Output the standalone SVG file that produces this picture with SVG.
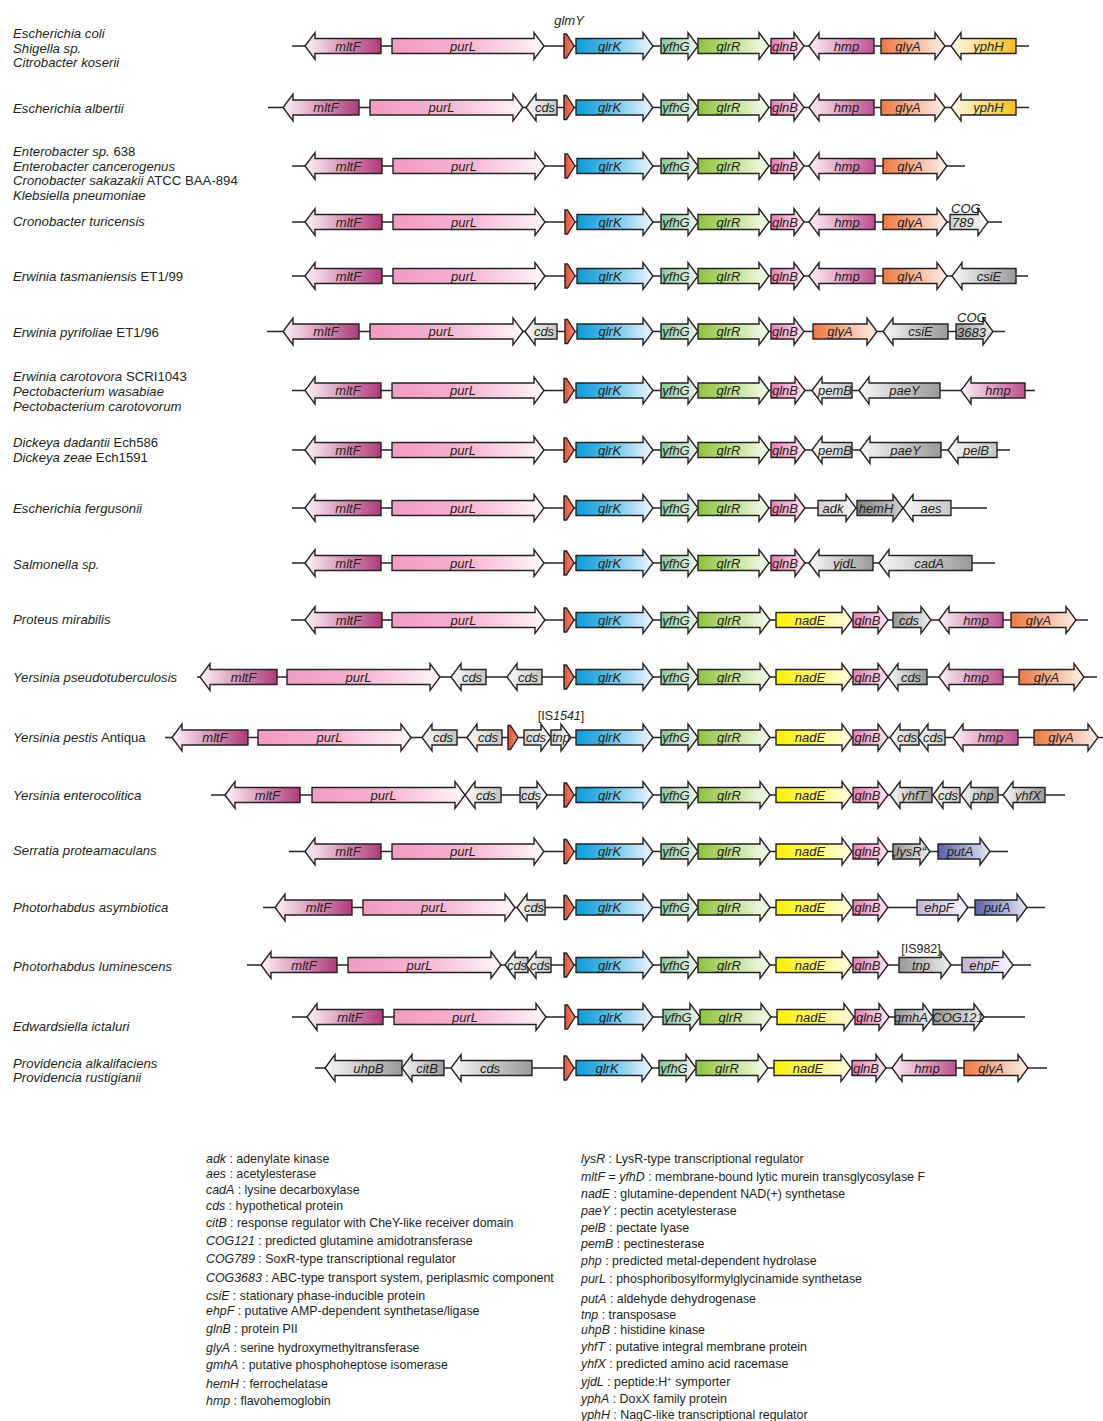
<svg xmlns="http://www.w3.org/2000/svg" width="1103" height="1421" viewBox="0 0 1103 1421">
<style>
.a{stroke:#262223;stroke-width:1.4;stroke-linejoin:miter}
.t{font-family:"Liberation Sans",Arial,sans-serif;font-style:italic;font-size:13px;fill:#231f20;text-anchor:middle}
.s{font-family:"Liberation Sans",Arial,sans-serif;font-size:13.2px;fill:#231f20}
.s .i,.l .i{font-style:italic}
.l{font-family:"Liberation Sans",Arial,sans-serif;font-size:12.4px;fill:#231f20}
.bb line{stroke:#262223;stroke-width:1.7}
.lab{font-family:"Liberation Sans",Arial,sans-serif;font-size:12.5px;fill:#231f20}
</style>
<defs>
<linearGradient id="gMltF"><stop offset="0" stop-color="#fdf2f7"/><stop offset="1" stop-color="#b13a7a"/></linearGradient>
<linearGradient id="gPurL"><stop offset="0" stop-color="#f39bc1"/><stop offset="0.5" stop-color="#f6b5d2"/><stop offset="1" stop-color="#fff8fb"/></linearGradient>
<linearGradient id="gGlmY"><stop offset="0" stop-color="#e8482c"/><stop offset="1" stop-color="#f7977a"/></linearGradient>
<linearGradient id="gGlrK"><stop offset="0" stop-color="#0a9ed8"/><stop offset="0.3" stop-color="#3db1e2"/><stop offset="1" stop-color="#f0f8fd"/></linearGradient>
<linearGradient id="gYfhG"><stop offset="0" stop-color="#86c496"/><stop offset="1" stop-color="#f3f9f3"/></linearGradient>
<linearGradient id="gGlrR"><stop offset="0" stop-color="#8bc43c"/><stop offset="1" stop-color="#f9fbef"/></linearGradient>
<linearGradient id="gGlnB"><stop offset="0" stop-color="#eb7bb2"/><stop offset="1" stop-color="#fdeaf3"/></linearGradient>
<linearGradient id="gHmp"><stop offset="0" stop-color="#fcf1f7"/><stop offset="1" stop-color="#c0508e"/></linearGradient>
<linearGradient id="gGlyA"><stop offset="0" stop-color="#ee7843"/><stop offset="1" stop-color="#fff1e8"/></linearGradient>
<linearGradient id="gYphH"><stop offset="0" stop-color="#fffaea"/><stop offset="1" stop-color="#f8bd22"/></linearGradient>
<linearGradient id="gNadE"><stop offset="0" stop-color="#fff200"/><stop offset="1" stop-color="#fffbe6"/></linearGradient>
<linearGradient id="gGrayL"><stop offset="0" stop-color="#f8f8f8"/><stop offset="1" stop-color="#999999"/></linearGradient>
<linearGradient id="gGrayLs"><stop offset="0" stop-color="#f8f8f8"/><stop offset="1" stop-color="#c6c6c6"/></linearGradient>
<linearGradient id="gGrayR"><stop offset="0" stop-color="#979797"/><stop offset="1" stop-color="#efefef"/></linearGradient>
<linearGradient id="gGrayLt"><stop offset="0" stop-color="#d0d0d0"/><stop offset="1" stop-color="#f7f7f7"/></linearGradient>
<linearGradient id="gHemH"><stop offset="0" stop-color="#838383"/><stop offset="1" stop-color="#cfcfcf"/></linearGradient>
<linearGradient id="gPutA"><stop offset="0" stop-color="#5a62aa"/><stop offset="1" stop-color="#e6e7f3"/></linearGradient>
<linearGradient id="gEhpF"><stop offset="0" stop-color="#c3b4da"/><stop offset="1" stop-color="#f8f5fb"/></linearGradient>
</defs>
<rect width="1103" height="1421" fill="#ffffff"/>

<g id="species" class="s">
<text x="13" y="38"><tspan class="i">Escherichia coli</tspan></text>
<text x="13" y="52.5"><tspan class="i">Shigella sp.</tspan></text>
<text x="13" y="67"><tspan class="i">Citrobacter koserii</tspan></text>
<text x="13" y="113"><tspan class="i">Escherichia albertii</tspan></text>
<text x="13" y="156"><tspan class="i">Enterobacter sp.</tspan> 638</text>
<text x="13" y="170.5"><tspan class="i">Enterobacter cancerogenus</tspan></text>
<text x="13" y="185"><tspan class="i">Cronobacter sakazakii</tspan> ATCC BAA-894</text>
<text x="13" y="199.5"><tspan class="i">Klebsiella pneumoniae</tspan></text>
<text x="13" y="226"><tspan class="i">Cronobacter turicensis</tspan></text>
<text x="13" y="281"><tspan class="i">Erwinia tasmaniensis</tspan> ET1/99</text>
<text x="13" y="337"><tspan class="i">Erwinia pyrifoliae</tspan> ET1/96</text>
<text x="13" y="381"><tspan class="i">Erwinia carotovora</tspan> SCRI1043</text>
<text x="13" y="396"><tspan class="i">Pectobacterium wasabiae</tspan></text>
<text x="13" y="411"><tspan class="i">Pectobacterium carotovorum</tspan></text>
<text x="13" y="446.5"><tspan class="i">Dickeya dadantii</tspan> Ech586</text>
<text x="13" y="461.5"><tspan class="i">Dickeya zeae</tspan> Ech1591</text>
<text x="13" y="512.5"><tspan class="i">Escherichia fergusonii</tspan></text>
<text x="13" y="568.5"><tspan class="i">Salmonella sp.</tspan></text>
<text x="13" y="624"><tspan class="i">Proteus mirabilis</tspan></text>
<text x="13" y="681.5"><tspan class="i">Yersinia pseudotuberculosis</tspan></text>
<text x="13" y="741.5"><tspan class="i">Yersinia pestis</tspan> Antiqua</text>
<text x="13" y="799.5"><tspan class="i">Yersinia enterocolitica</tspan></text>
<text x="13" y="855"><tspan class="i">Serratia proteamaculans</tspan></text>
<text x="13" y="911.5"><tspan class="i">Photorhabdus asymbiotica</tspan></text>
<text x="13" y="970.5"><tspan class="i">Photorhabdus luminescens</tspan></text>
<text x="13" y="1030.5"><tspan class="i">Edwardsiella ictaluri</tspan></text>
<text x="13" y="1067.5"><tspan class="i">Providencia alkalifaciens</tspan></text>
<text x="13" y="1082"><tspan class="i">Providencia rustigianii</tspan></text>
</g>

<g id="backbones" class="bb">
<line x1="292" y1="46" x2="1029" y2="46"/>
<line x1="268" y1="107.5" x2="1029" y2="107.5"/>
<line x1="292" y1="166" x2="965" y2="166"/>
<line x1="292" y1="222" x2="1002" y2="222"/>
<line x1="292" y1="276" x2="1028" y2="276"/>
<line x1="267" y1="331.5" x2="1005" y2="331.5"/>
<line x1="292" y1="390.5" x2="1035" y2="390.5"/>
<line x1="292" y1="450" x2="1010" y2="450"/>
<line x1="292" y1="508" x2="987" y2="508"/>
<line x1="292" y1="563" x2="995" y2="563"/>
<line x1="291" y1="620" x2="1088" y2="620"/>
<line x1="197" y1="677" x2="1097" y2="677"/>
<line x1="165" y1="737.5" x2="1103" y2="737.5"/>
<line x1="211" y1="795" x2="1065" y2="795"/>
<line x1="289" y1="851.5" x2="1008" y2="851.5"/>
<line x1="263" y1="907.5" x2="1045" y2="907.5"/>
<line x1="247" y1="965" x2="1031" y2="965"/>
<line x1="292" y1="1017" x2="1025" y2="1017"/>
<line x1="315" y1="1068" x2="1047" y2="1068"/>
</g>

<text class="t" x="569" y="24.5">glmY</text>

<g id="row01" transform="translate(0,46)">
<g id="r01-mltF"><path class="a" fill="url(#gMltF)" d="M381,-7.5h-66v-6l-10,13.5l10,13.5v-6h66z"/><text class="t" x="348" y="4.5">mltF</text></g>
<g id="r01-purL"><path class="a" fill="url(#gPurL)" d="M392,-7.5h142v-6l10,13.5l-10,13.5v-6h-142z"/><text class="t" x="463" y="4.5">purL</text></g>
<g id="r01-glmY"><path class="a" fill="url(#gGlmY)" d="M564,-12h2.5l7.5,12l-7.5,12h-2.5z"/></g>
<g id="r01-glrK"><path class="a" fill="url(#gGlrK)" d="M576,-7.5h67v-6l10,13.5l-10,13.5v-6h-67z"/><text class="t" x="609.5" y="4.5">glrK</text></g>
<g id="r01-yfhG"><path class="a" fill="url(#gYfhG)" d="M661,-7.5h27v-6l10,13.5l-10,13.5v-6h-27z"/><text class="t" x="676" y="4.5">yfhG</text></g>
<g id="r01-glrR"><path class="a" fill="url(#gGlrR)" d="M698,-7.5h61v-6l10,13.5l-10,13.5v-6h-61z"/><text class="t" x="728.5" y="4.5">glrR</text></g>
<g id="r01-glnB"><path class="a" fill="url(#gGlnB)" d="M771,-7.5h23v-6l10,13.5l-10,13.5v-6h-23z"/><text class="t" x="785" y="4.5">glnB</text></g>
<g id="r01-hmp"><path class="a" fill="url(#gHmp)" d="M874,-7.5h-55v-6l-10,13.5l10,13.5v-6h55z"/><text class="t" x="846.5" y="4.5">hmp</text></g>
<g id="r01-glyA"><path class="a" fill="url(#gGlyA)" d="M881,-7.5h54v-6l10,13.5l-10,13.5v-6h-54z"/><text class="t" x="908" y="4.5">glyA</text></g>
<g id="r01-yphH"><path class="a" fill="url(#gYphH)" d="M1016,-7.5h-55v-6l-10,13.5l10,13.5v-6h55z"/><text class="t" x="988.5" y="4.5">yphH</text></g>
</g>

<g id="row02" transform="translate(0,107.5)">
<g id="r02-mltF"><path class="a" fill="url(#gMltF)" d="M359,-7.5h-66v-6l-10,13.5l10,13.5v-6h66z"/><text class="t" x="326" y="4.5">mltF</text></g>
<g id="r02-purL"><path class="a" fill="url(#gPurL)" d="M370,-7.5h143v-6l10,13.5l-10,13.5v-6h-143z"/><text class="t" x="441.5" y="4.5">purL</text></g>
<g id="r02-cds"><path class="a" fill="url(#gGrayLs)" d="M557,-7.5h-21v-6l-10,13.5l10,13.5v-6h21z"/><text class="t" x="545" y="4.5">cds</text></g>
<g id="r02-glmY"><path class="a" fill="url(#gGlmY)" d="M564,-12h2.5l7.5,12l-7.5,12h-2.5z"/></g>
<g id="r02-glrK"><path class="a" fill="url(#gGlrK)" d="M576,-7.5h67v-6l10,13.5l-10,13.5v-6h-67z"/><text class="t" x="609.5" y="4.5">glrK</text></g>
<g id="r02-yfhG"><path class="a" fill="url(#gYfhG)" d="M661,-7.5h27v-6l10,13.5l-10,13.5v-6h-27z"/><text class="t" x="676" y="4.5">yfhG</text></g>
<g id="r02-glrR"><path class="a" fill="url(#gGlrR)" d="M698,-7.5h61v-6l10,13.5l-10,13.5v-6h-61z"/><text class="t" x="728.5" y="4.5">glrR</text></g>
<g id="r02-glnB"><path class="a" fill="url(#gGlnB)" d="M771,-7.5h23v-6l10,13.5l-10,13.5v-6h-23z"/><text class="t" x="785" y="4.5">glnB</text></g>
<g id="r02-hmp"><path class="a" fill="url(#gHmp)" d="M874,-7.5h-55v-6l-10,13.5l10,13.5v-6h55z"/><text class="t" x="846.5" y="4.5">hmp</text></g>
<g id="r02-glyA"><path class="a" fill="url(#gGlyA)" d="M881,-7.5h54v-6l10,13.5l-10,13.5v-6h-54z"/><text class="t" x="908" y="4.5">glyA</text></g>
<g id="r02-yphH"><path class="a" fill="url(#gYphH)" d="M1016,-7.5h-55v-6l-10,13.5l10,13.5v-6h55z"/><text class="t" x="988.5" y="4.5">yphH</text></g>
</g>

<g id="row03" transform="translate(0,166)">
<g id="r03-mltF"><path class="a" fill="url(#gMltF)" d="M382,-7.5h-67v-6l-10,13.5l10,13.5v-6h67z"/><text class="t" x="348.5" y="4.5">mltF</text></g>
<g id="r03-purL"><path class="a" fill="url(#gPurL)" d="M393,-7.5h142v-6l10,13.5l-10,13.5v-6h-142z"/><text class="t" x="464" y="4.5">purL</text></g>
<g id="r03-glmY"><path class="a" fill="url(#gGlmY)" d="M565,-12h2.5l7.5,12l-7.5,12h-2.5z"/></g>
<g id="r03-glrK"><path class="a" fill="url(#gGlrK)" d="M577,-7.5h66v-6l10,13.5l-10,13.5v-6h-66z"/><text class="t" x="610" y="4.5">glrK</text></g>
<g id="r03-yfhG"><path class="a" fill="url(#gYfhG)" d="M661,-7.5h27v-6l10,13.5l-10,13.5v-6h-27z"/><text class="t" x="676" y="4.5">yfhG</text></g>
<g id="r03-glrR"><path class="a" fill="url(#gGlrR)" d="M698,-7.5h61v-6l10,13.5l-10,13.5v-6h-61z"/><text class="t" x="728.5" y="4.5">glrR</text></g>
<g id="r03-glnB"><path class="a" fill="url(#gGlnB)" d="M771,-7.5h23v-6l10,13.5l-10,13.5v-6h-23z"/><text class="t" x="785" y="4.5">glnB</text></g>
<g id="r03-hmp"><path class="a" fill="url(#gHmp)" d="M875,-7.5h-56v-6l-10,13.5l10,13.5v-6h56z"/><text class="t" x="847" y="4.5">hmp</text></g>
<g id="r03-glyA"><path class="a" fill="url(#gGlyA)" d="M883,-7.5h54v-6l10,13.5l-10,13.5v-6h-54z"/><text class="t" x="910" y="4.5">glyA</text></g>
</g>

<g id="row04" transform="translate(0,222)">
<g id="r04-mltF"><path class="a" fill="url(#gMltF)" d="M382,-7.5h-67v-6l-10,13.5l10,13.5v-6h67z"/><text class="t" x="348.5" y="4.5">mltF</text></g>
<g id="r04-purL"><path class="a" fill="url(#gPurL)" d="M393,-7.5h142v-6l10,13.5l-10,13.5v-6h-142z"/><text class="t" x="464" y="4.5">purL</text></g>
<g id="r04-glmY"><path class="a" fill="url(#gGlmY)" d="M565,-12h2.5l7.5,12l-7.5,12h-2.5z"/></g>
<g id="r04-glrK"><path class="a" fill="url(#gGlrK)" d="M577,-7.5h66v-6l10,13.5l-10,13.5v-6h-66z"/><text class="t" x="610" y="4.5">glrK</text></g>
<g id="r04-yfhG"><path class="a" fill="url(#gYfhG)" d="M661,-7.5h27v-6l10,13.5l-10,13.5v-6h-27z"/><text class="t" x="676" y="4.5">yfhG</text></g>
<g id="r04-glrR"><path class="a" fill="url(#gGlrR)" d="M698,-7.5h61v-6l10,13.5l-10,13.5v-6h-61z"/><text class="t" x="728.5" y="4.5">glrR</text></g>
<g id="r04-glnB"><path class="a" fill="url(#gGlnB)" d="M771,-7.5h23v-6l10,13.5l-10,13.5v-6h-23z"/><text class="t" x="785" y="4.5">glnB</text></g>
<g id="r04-hmp"><path class="a" fill="url(#gHmp)" d="M875,-7.5h-56v-6l-10,13.5l10,13.5v-6h56z"/><text class="t" x="847" y="4.5">hmp</text></g>
<g id="r04-glyA"><path class="a" fill="url(#gGlyA)" d="M883,-7.5h54v-6l10,13.5l-10,13.5v-6h-54z"/><text class="t" x="910" y="4.5">glyA</text></g>
<g id="r04-COG789"><path class="a" fill="url(#gGrayLt)" d="M950,-7.5h28v-6l10,13.5l-10,13.5v-6h-28z"/><text class="t" x="951" y="-9.5" style="text-anchor:start">COG</text><text class="t" x="952" y="4.5" style="text-anchor:start">789</text></g>
</g>

<g id="row05" transform="translate(0,276)">
<g id="r05-mltF"><path class="a" fill="url(#gMltF)" d="M382,-7.5h-67v-6l-10,13.5l10,13.5v-6h67z"/><text class="t" x="348.5" y="4.5">mltF</text></g>
<g id="r05-purL"><path class="a" fill="url(#gPurL)" d="M393,-7.5h142v-6l10,13.5l-10,13.5v-6h-142z"/><text class="t" x="464" y="4.5">purL</text></g>
<g id="r05-glmY"><path class="a" fill="url(#gGlmY)" d="M565,-12h2.5l7.5,12l-7.5,12h-2.5z"/></g>
<g id="r05-glrK"><path class="a" fill="url(#gGlrK)" d="M577,-7.5h66v-6l10,13.5l-10,13.5v-6h-66z"/><text class="t" x="610" y="4.5">glrK</text></g>
<g id="r05-yfhG"><path class="a" fill="url(#gYfhG)" d="M661,-7.5h27v-6l10,13.5l-10,13.5v-6h-27z"/><text class="t" x="676" y="4.5">yfhG</text></g>
<g id="r05-glrR"><path class="a" fill="url(#gGlrR)" d="M698,-7.5h61v-6l10,13.5l-10,13.5v-6h-61z"/><text class="t" x="728.5" y="4.5">glrR</text></g>
<g id="r05-glnB"><path class="a" fill="url(#gGlnB)" d="M771,-7.5h23v-6l10,13.5l-10,13.5v-6h-23z"/><text class="t" x="785" y="4.5">glnB</text></g>
<g id="r05-hmp"><path class="a" fill="url(#gHmp)" d="M875,-7.5h-56v-6l-10,13.5l10,13.5v-6h56z"/><text class="t" x="847" y="4.5">hmp</text></g>
<g id="r05-glyA"><path class="a" fill="url(#gGlyA)" d="M883,-7.5h54v-6l10,13.5l-10,13.5v-6h-54z"/><text class="t" x="910" y="4.5">glyA</text></g>
<g id="r05-csiE"><path class="a" fill="url(#gGrayL)" d="M1016,-7.5h-54v-6l-10,13.5l10,13.5v-6h54z"/><text class="t" x="989" y="4.5">csiE</text></g>
</g>

<g id="row06" transform="translate(0,331.5)">
<g id="r06-mltF"><path class="a" fill="url(#gMltF)" d="M359,-7.5h-66v-6l-10,13.5l10,13.5v-6h66z"/><text class="t" x="326" y="4.5">mltF</text></g>
<g id="r06-purL"><path class="a" fill="url(#gPurL)" d="M370,-7.5h143v-6l10,13.5l-10,13.5v-6h-143z"/><text class="t" x="441.5" y="4.5">purL</text></g>
<g id="r06-cds"><path class="a" fill="url(#gGrayLs)" d="M557,-7.5h-22v-6l-10,13.5l10,13.5v-6h22z"/><text class="t" x="544" y="4.5">cds</text></g>
<g id="r06-glmY"><path class="a" fill="url(#gGlmY)" d="M565,-12h2.5l7.5,12l-7.5,12h-2.5z"/></g>
<g id="r06-glrK"><path class="a" fill="url(#gGlrK)" d="M577,-7.5h66v-6l10,13.5l-10,13.5v-6h-66z"/><text class="t" x="610" y="4.5">glrK</text></g>
<g id="r06-yfhG"><path class="a" fill="url(#gYfhG)" d="M661,-7.5h27v-6l10,13.5l-10,13.5v-6h-27z"/><text class="t" x="676" y="4.5">yfhG</text></g>
<g id="r06-glrR"><path class="a" fill="url(#gGlrR)" d="M698,-7.5h61v-6l10,13.5l-10,13.5v-6h-61z"/><text class="t" x="728.5" y="4.5">glrR</text></g>
<g id="r06-glnB"><path class="a" fill="url(#gGlnB)" d="M771,-7.5h23v-6l10,13.5l-10,13.5v-6h-23z"/><text class="t" x="785" y="4.5">glnB</text></g>
<g id="r06-glyA"><path class="a" fill="url(#gGlyA)" d="M813,-7.5h54v-6l10,13.5l-10,13.5v-6h-54z"/><text class="t" x="840" y="4.5">glyA</text></g>
<g id="r06-csiE"><path class="a" fill="url(#gGrayL)" d="M948,-7.5h-55v-6l-10,13.5l10,13.5v-6h55z"/><text class="t" x="920.5" y="4.5">csiE</text></g>
<g id="r06-COG3683"><path class="a" fill="url(#gGrayR)" d="M956,-7.5h27v-6l10,13.5l-10,13.5v-6h-27z"/><text class="t" x="957" y="-9.5" style="text-anchor:start">COG</text><text class="t" x="957" y="5" style="text-anchor:start">3683</text></g>
</g>

<g id="row07" transform="translate(0,390.5)">
<g id="r07-mltF"><path class="a" fill="url(#gMltF)" d="M381,-7.5h-66v-6l-10,13.5l10,13.5v-6h66z"/><text class="t" x="348" y="4.5">mltF</text></g>
<g id="r07-purL"><path class="a" fill="url(#gPurL)" d="M392,-7.5h142v-6l10,13.5l-10,13.5v-6h-142z"/><text class="t" x="463" y="4.5">purL</text></g>
<g id="r07-glmY"><path class="a" fill="url(#gGlmY)" d="M564,-12h2.5l7.5,12l-7.5,12h-2.5z"/></g>
<g id="r07-glrK"><path class="a" fill="url(#gGlrK)" d="M576,-7.5h67v-6l10,13.5l-10,13.5v-6h-67z"/><text class="t" x="609.5" y="4.5">glrK</text></g>
<g id="r07-yfhG"><path class="a" fill="url(#gYfhG)" d="M661,-7.5h27v-6l10,13.5l-10,13.5v-6h-27z"/><text class="t" x="676" y="4.5">yfhG</text></g>
<g id="r07-glrR"><path class="a" fill="url(#gGlrR)" d="M698,-7.5h61v-6l10,13.5l-10,13.5v-6h-61z"/><text class="t" x="728.5" y="4.5">glrR</text></g>
<g id="r07-glnB"><path class="a" fill="url(#gGlnB)" d="M771,-7.5h24v-6l10,13.5l-10,13.5v-6h-24z"/><text class="t" x="785" y="4.5">glnB</text></g>
<g id="r07-pemB"><path class="a" fill="url(#gGrayLs)" d="M852,-7.5h-30v-6l-10,13.5l10,13.5v-6h30z"/><text class="t" x="835" y="4.5">pemB</text></g>
<g id="r07-paeY"><path class="a" fill="url(#gGrayL)" d="M940,-7.5h-71v-6l-10,13.5l10,13.5v-6h71z"/><text class="t" x="904.5" y="4.5">paeY</text></g>
<g id="r07-hmp"><path class="a" fill="url(#gHmp)" d="M1025,-7.5h-54v-6l-10,13.5l10,13.5v-6h54z"/><text class="t" x="998" y="4.5">hmp</text></g>
</g>

<g id="row08" transform="translate(0,450)">
<g id="r08-mltF"><path class="a" fill="url(#gMltF)" d="M381,-7.5h-66v-6l-10,13.5l10,13.5v-6h66z"/><text class="t" x="348" y="4.5">mltF</text></g>
<g id="r08-purL"><path class="a" fill="url(#gPurL)" d="M392,-7.5h142v-6l10,13.5l-10,13.5v-6h-142z"/><text class="t" x="463" y="4.5">purL</text></g>
<g id="r08-glmY"><path class="a" fill="url(#gGlmY)" d="M564,-12h2.5l7.5,12l-7.5,12h-2.5z"/></g>
<g id="r08-glrK"><path class="a" fill="url(#gGlrK)" d="M576,-7.5h67v-6l10,13.5l-10,13.5v-6h-67z"/><text class="t" x="609.5" y="4.5">glrK</text></g>
<g id="r08-yfhG"><path class="a" fill="url(#gYfhG)" d="M661,-7.5h27v-6l10,13.5l-10,13.5v-6h-27z"/><text class="t" x="676" y="4.5">yfhG</text></g>
<g id="r08-glrR"><path class="a" fill="url(#gGlrR)" d="M698,-7.5h61v-6l10,13.5l-10,13.5v-6h-61z"/><text class="t" x="728.5" y="4.5">glrR</text></g>
<g id="r08-glnB"><path class="a" fill="url(#gGlnB)" d="M771,-7.5h24v-6l10,13.5l-10,13.5v-6h-24z"/><text class="t" x="785" y="4.5">glnB</text></g>
<g id="r08-pemB"><path class="a" fill="url(#gGrayLs)" d="M852,-7.5h-30v-6l-10,13.5l10,13.5v-6h30z"/><text class="t" x="835" y="4.5">pemB</text></g>
<g id="r08-paeY"><path class="a" fill="url(#gGrayL)" d="M941,-7.5h-71v-6l-10,13.5l10,13.5v-6h71z"/><text class="t" x="905.5" y="4.5">paeY</text></g>
<g id="r08-pelB"><path class="a" fill="url(#gGrayLs)" d="M997,-7.5h-39v-6l-10,13.5l10,13.5v-6h39z"/><text class="t" x="976" y="4.5">pelB</text></g>
</g>

<g id="row09" transform="translate(0,508)">
<g id="r09-mltF"><path class="a" fill="url(#gMltF)" d="M381,-7.5h-66v-6l-10,13.5l10,13.5v-6h66z"/><text class="t" x="348" y="4.5">mltF</text></g>
<g id="r09-purL"><path class="a" fill="url(#gPurL)" d="M392,-7.5h142v-6l10,13.5l-10,13.5v-6h-142z"/><text class="t" x="463" y="4.5">purL</text></g>
<g id="r09-glmY"><path class="a" fill="url(#gGlmY)" d="M564,-12h2.5l7.5,12l-7.5,12h-2.5z"/></g>
<g id="r09-glrK"><path class="a" fill="url(#gGlrK)" d="M576,-7.5h67v-6l10,13.5l-10,13.5v-6h-67z"/><text class="t" x="609.5" y="4.5">glrK</text></g>
<g id="r09-yfhG"><path class="a" fill="url(#gYfhG)" d="M661,-7.5h27v-6l10,13.5l-10,13.5v-6h-27z"/><text class="t" x="676" y="4.5">yfhG</text></g>
<g id="r09-glrR"><path class="a" fill="url(#gGlrR)" d="M698,-7.5h61v-6l10,13.5l-10,13.5v-6h-61z"/><text class="t" x="728.5" y="4.5">glrR</text></g>
<g id="r09-glnB"><path class="a" fill="url(#gGlnB)" d="M771,-7.5h24v-6l10,13.5l-10,13.5v-6h-24z"/><text class="t" x="785" y="4.5">glnB</text></g>
<g id="r09-adk"><path class="a" fill="url(#gGrayLt)" d="M818,-7.5h28v-6l10,13.5l-10,13.5v-6h-28z"/><text class="t" x="833" y="4.5">adk</text></g>
<g id="r09-hemH"><path class="a" fill="url(#gHemH)" d="M857,-7.5h36v-6l10,13.5l-10,13.5v-6h-36z"/><text class="t" x="876" y="4.5">hemH</text></g>
<g id="r09-aes"><path class="a" fill="url(#gGrayLs)" d="M951,-7.5h-38v-6l-10,13.5l10,13.5v-6h38z"/><text class="t" x="931" y="4.5">aes</text></g>
</g>

<g id="row10" transform="translate(0,563)">
<g id="r10-mltF"><path class="a" fill="url(#gMltF)" d="M381,-7.5h-66v-6l-10,13.5l10,13.5v-6h66z"/><text class="t" x="348" y="4.5">mltF</text></g>
<g id="r10-purL"><path class="a" fill="url(#gPurL)" d="M392,-7.5h142v-6l10,13.5l-10,13.5v-6h-142z"/><text class="t" x="463" y="4.5">purL</text></g>
<g id="r10-glmY"><path class="a" fill="url(#gGlmY)" d="M564,-12h2.5l7.5,12l-7.5,12h-2.5z"/></g>
<g id="r10-glrK"><path class="a" fill="url(#gGlrK)" d="M576,-7.5h67v-6l10,13.5l-10,13.5v-6h-67z"/><text class="t" x="609.5" y="4.5">glrK</text></g>
<g id="r10-yfhG"><path class="a" fill="url(#gYfhG)" d="M661,-7.5h27v-6l10,13.5l-10,13.5v-6h-27z"/><text class="t" x="676" y="4.5">yfhG</text></g>
<g id="r10-glrR"><path class="a" fill="url(#gGlrR)" d="M698,-7.5h61v-6l10,13.5l-10,13.5v-6h-61z"/><text class="t" x="728.5" y="4.5">glrR</text></g>
<g id="r10-glnB"><path class="a" fill="url(#gGlnB)" d="M771,-7.5h24v-6l10,13.5l-10,13.5v-6h-24z"/><text class="t" x="785" y="4.5">glnB</text></g>
<g id="r10-yjdL"><path class="a" fill="url(#gGrayL)" d="M873,-7.5h-54v-6l-10,13.5l10,13.5v-6h54z"/><text class="t" x="845" y="4.5">yjdL</text></g>
<g id="r10-cadA"><path class="a" fill="url(#gGrayL)" d="M972,-7.5h-83v-6l-10,13.5l10,13.5v-6h83z"/><text class="t" x="929" y="4.5">cadA</text></g>
</g>

<g id="row11" transform="translate(0,620)">
<g id="r11-mltF"><path class="a" fill="url(#gMltF)" d="M382,-7.5h-67v-6l-10,13.5l10,13.5v-6h67z"/><text class="t" x="348.5" y="4.5">mltF</text></g>
<g id="r11-purL"><path class="a" fill="url(#gPurL)" d="M392,-7.5h143v-6l10,13.5l-10,13.5v-6h-143z"/><text class="t" x="463.5" y="4.5">purL</text></g>
<g id="r11-glmY"><path class="a" fill="url(#gGlmY)" d="M564,-12h2.5l7.5,12l-7.5,12h-2.5z"/></g>
<g id="r11-glrK"><path class="a" fill="url(#gGlrK)" d="M576,-7.5h67v-6l10,13.5l-10,13.5v-6h-67z"/><text class="t" x="609.5" y="4.5">glrK</text></g>
<g id="r11-yfhG"><path class="a" fill="url(#gYfhG)" d="M661,-7.5h27v-6l10,13.5l-10,13.5v-6h-27z"/><text class="t" x="676" y="4.5">yfhG</text></g>
<g id="r11-glrR"><path class="a" fill="url(#gGlrR)" d="M698,-7.5h62v-6l10,13.5l-10,13.5v-6h-62z"/><text class="t" x="729" y="4.5">glrR</text></g>
<g id="r11-nadE"><path class="a" fill="url(#gNadE)" d="M776,-7.5h66v-6l10,13.5l-10,13.5v-6h-66z"/><text class="t" x="810" y="4.5">nadE</text></g>
<g id="r11-glnB"><path class="a" fill="url(#gGlnB)" d="M853,-7.5h25v-6l10,13.5l-10,13.5v-6h-25z"/><text class="t" x="867.5" y="4.5">glnB</text></g>
<g id="r11-cds"><path class="a" fill="url(#gGrayR)" d="M893,-7.5h28v-6l10,13.5l-10,13.5v-6h-28z"/><text class="t" x="909" y="4.5">cds</text></g>
<g id="r11-hmp"><path class="a" fill="url(#gHmp)" d="M1003,-7.5h-54v-6l-10,13.5l10,13.5v-6h54z"/><text class="t" x="976" y="4.5">hmp</text></g>
<g id="r11-glyA"><path class="a" fill="url(#gGlyA)" d="M1011,-7.5h55v-6l10,13.5l-10,13.5v-6h-55z"/><text class="t" x="1038.5" y="4.5">glyA</text></g>
</g>

<g id="row12" transform="translate(0,677)">
<g id="r12-mltF"><path class="a" fill="url(#gMltF)" d="M277,-7.5h-67v-6l-10,13.5l10,13.5v-6h67z"/><text class="t" x="243.5" y="4.5">mltF</text></g>
<g id="r12-purL"><path class="a" fill="url(#gPurL)" d="M287,-7.5h143v-6l10,13.5l-10,13.5v-6h-143z"/><text class="t" x="358.5" y="4.5">purL</text></g>
<g id="r12-cds1"><path class="a" fill="url(#gGrayLs)" d="M486,-7.5h-25v-6l-10,13.5l10,13.5v-6h25z"/><text class="t" x="472" y="4.5">cds</text></g>
<g id="r12-cds2"><path class="a" fill="url(#gGrayLs)" d="M542,-7.5h-25v-6l-10,13.5l10,13.5v-6h25z"/><text class="t" x="528" y="4.5">cds</text></g>
<g id="r12-glmY"><path class="a" fill="url(#gGlmY)" d="M564,-12h2.5l7.5,12l-7.5,12h-2.5z"/></g>
<g id="r12-glrK"><path class="a" fill="url(#gGlrK)" d="M576,-7.5h67v-6l10,13.5l-10,13.5v-6h-67z"/><text class="t" x="609.5" y="4.5">glrK</text></g>
<g id="r12-yfhG"><path class="a" fill="url(#gYfhG)" d="M661,-7.5h27v-6l10,13.5l-10,13.5v-6h-27z"/><text class="t" x="676" y="4.5">yfhG</text></g>
<g id="r12-glrR"><path class="a" fill="url(#gGlrR)" d="M698,-7.5h62v-6l10,13.5l-10,13.5v-6h-62z"/><text class="t" x="729" y="4.5">glrR</text></g>
<g id="r12-nadE"><path class="a" fill="url(#gNadE)" d="M776,-7.5h66v-6l10,13.5l-10,13.5v-6h-66z"/><text class="t" x="810" y="4.5">nadE</text></g>
<g id="r12-glnB"><path class="a" fill="url(#gGlnB)" d="M853,-7.5h25v-6l10,13.5l-10,13.5v-6h-25z"/><text class="t" x="867.5" y="4.5">glnB</text></g>
<g id="r12-cds3"><path class="a" fill="url(#gGrayL)" d="M927,-7.5h-29v-6l-10,13.5l10,13.5v-6h29z"/><text class="t" x="911" y="4.5">cds</text></g>
<g id="r12-hmp"><path class="a" fill="url(#gHmp)" d="M1003,-7.5h-54v-6l-10,13.5l10,13.5v-6h54z"/><text class="t" x="976" y="4.5">hmp</text></g>
<g id="r12-glyA"><path class="a" fill="url(#gGlyA)" d="M1019,-7.5h55v-6l10,13.5l-10,13.5v-6h-55z"/><text class="t" x="1046.5" y="4.5">glyA</text></g>
</g>

<text class="lab" x="561" y="719.5" text-anchor="middle">[IS<tspan font-style="italic">1541</tspan>]</text>
<g id="row13" transform="translate(0,737.5)">
<g id="r13-mltF"><path class="a" fill="url(#gMltF)" d="M248,-7.5h-66v-6l-10,13.5l10,13.5v-6h66z"/><text class="t" x="215" y="4.5">mltF</text></g>
<g id="r13-purL"><path class="a" fill="url(#gPurL)" d="M258,-7.5h143v-6l10,13.5l-10,13.5v-6h-143z"/><text class="t" x="329.5" y="4.5">purL</text></g>
<g id="r13-cds1"><path class="a" fill="url(#gGrayLs)" d="M457,-7.5h-25v-6l-10,13.5l10,13.5v-6h25z"/><text class="t" x="443" y="4.5">cds</text></g>
<g id="r13-cds2"><path class="a" fill="url(#gGrayLs)" d="M502,-7.5h-25v-6l-10,13.5l10,13.5v-6h25z"/><text class="t" x="488" y="4.5">cds</text></g>
<g id="r13-glmY"><path class="a" fill="url(#gGlmY)" d="M508,-12h2.5l7.5,12l-7.5,12h-2.5z"/></g>
<g id="r13-cds3"><path class="a" fill="url(#gGrayLt)" d="M524,-7.5h17v-6l10,13.5l-10,13.5v-6h-17z"/><text class="t" x="536" y="4.5">cds</text></g>
<g id="r13-tnp"><path class="a" fill="url(#gGrayLt)" d="M551,-7.5h10v-6l10,13.5l-10,13.5v-6h-10z"/><text class="t" x="561" y="4.5">tnp</text></g>
<g id="r13-glrK"><path class="a" fill="url(#gGlrK)" d="M576,-7.5h67v-6l10,13.5l-10,13.5v-6h-67z"/><text class="t" x="609.5" y="4.5">glrK</text></g>
<g id="r13-yfhG"><path class="a" fill="url(#gYfhG)" d="M661,-7.5h27v-6l10,13.5l-10,13.5v-6h-27z"/><text class="t" x="676" y="4.5">yfhG</text></g>
<g id="r13-glrR"><path class="a" fill="url(#gGlrR)" d="M698,-7.5h62v-6l10,13.5l-10,13.5v-6h-62z"/><text class="t" x="729" y="4.5">glrR</text></g>
<g id="r13-nadE"><path class="a" fill="url(#gNadE)" d="M776,-7.5h66v-6l10,13.5l-10,13.5v-6h-66z"/><text class="t" x="810" y="4.5">nadE</text></g>
<g id="r13-glnB"><path class="a" fill="url(#gGlnB)" d="M853,-7.5h25v-6l10,13.5l-10,13.5v-6h-25z"/><text class="t" x="867.5" y="4.5">glnB</text></g>
<g id="r13-cds4"><path class="a" fill="url(#gGrayLs)" d="M919,-7.5h-19v-6l-10,13.5l10,13.5v-6h19z"/><text class="t" x="907" y="4.5">cds</text></g>
<g id="r13-cds5"><path class="a" fill="url(#gGrayLs)" d="M945,-7.5h-17v-6l-10,13.5l10,13.5v-6h17z"/><text class="t" x="933" y="4.5">cds</text></g>
<g id="r13-hmp"><path class="a" fill="url(#gHmp)" d="M1018,-7.5h-55v-6l-10,13.5l10,13.5v-6h55z"/><text class="t" x="990.5" y="4.5">hmp</text></g>
<g id="r13-glyA"><path class="a" fill="url(#gGlyA)" d="M1034,-7.5h54v-6l10,13.5l-10,13.5v-6h-54z"/><text class="t" x="1061" y="4.5">glyA</text></g>
</g>

<g id="row14" transform="translate(0,795)">
<g id="r14-mltF"><path class="a" fill="url(#gMltF)" d="M300,-7.5h-65v-6l-10,13.5l10,13.5v-6h65z"/><text class="t" x="267.5" y="4.5">mltF</text></g>
<g id="r14-purL"><path class="a" fill="url(#gPurL)" d="M312,-7.5h143v-6l10,13.5l-10,13.5v-6h-143z"/><text class="t" x="383.5" y="4.5">purL</text></g>
<g id="r14-cds1"><path class="a" fill="url(#gGrayLs)" d="M501,-7.5h-26v-6l-10,13.5l10,13.5v-6h26z"/><text class="t" x="486" y="4.5">cds</text></g>
<g id="r14-cds2"><path class="a" fill="url(#gGrayLt)" d="M520,-7.5h17v-6l10,13.5l-10,13.5v-6h-17z"/><text class="t" x="531" y="4.5">cds</text></g>
<g id="r14-glmY"><path class="a" fill="url(#gGlmY)" d="M564,-12h2.5l7.5,12l-7.5,12h-2.5z"/></g>
<g id="r14-glrK"><path class="a" fill="url(#gGlrK)" d="M576,-7.5h67v-6l10,13.5l-10,13.5v-6h-67z"/><text class="t" x="609.5" y="4.5">glrK</text></g>
<g id="r14-yfhG"><path class="a" fill="url(#gYfhG)" d="M661,-7.5h27v-6l10,13.5l-10,13.5v-6h-27z"/><text class="t" x="676" y="4.5">yfhG</text></g>
<g id="r14-glrR"><path class="a" fill="url(#gGlrR)" d="M698,-7.5h62v-6l10,13.5l-10,13.5v-6h-62z"/><text class="t" x="729" y="4.5">glrR</text></g>
<g id="r14-nadE"><path class="a" fill="url(#gNadE)" d="M776,-7.5h66v-6l10,13.5l-10,13.5v-6h-66z"/><text class="t" x="810" y="4.5">nadE</text></g>
<g id="r14-glnB"><path class="a" fill="url(#gGlnB)" d="M853,-7.5h25v-6l10,13.5l-10,13.5v-6h-25z"/><text class="t" x="867.5" y="4.5">glnB</text></g>
<g id="r14-yhfT"><path class="a" fill="url(#gGrayL)" d="M932,-7.5h-32v-6l-10,13.5l10,13.5v-6h32z"/><text class="t" x="914" y="4.5">yhfT</text></g>
<g id="r14-cds3"><path class="a" fill="url(#gGrayLs)" d="M960,-7.5h-17v-6l-10,13.5l10,13.5v-6h17z"/><text class="t" x="948" y="4.5">cds</text></g>
<g id="r14-php"><path class="a" fill="url(#gGrayL)" d="M998,-7.5h-27v-6l-10,13.5l10,13.5v-6h27z"/><text class="t" x="983" y="4.5">php</text></g>
<g id="r14-yhfX"><path class="a" fill="url(#gGrayL)" d="M1045,-7.5h-32v-6l-10,13.5l10,13.5v-6h32z"/><text class="t" x="1028" y="4.5">yhfX</text></g>
</g>

<g id="row15" transform="translate(0,851.5)">
<g id="r15-mltF"><path class="a" fill="url(#gMltF)" d="M381,-7.5h-66v-6l-10,13.5l10,13.5v-6h66z"/><text class="t" x="348" y="4.5">mltF</text></g>
<g id="r15-purL"><path class="a" fill="url(#gPurL)" d="M392,-7.5h142v-6l10,13.5l-10,13.5v-6h-142z"/><text class="t" x="463" y="4.5">purL</text></g>
<g id="r15-glmY"><path class="a" fill="url(#gGlmY)" d="M564,-12h2.5l7.5,12l-7.5,12h-2.5z"/></g>
<g id="r15-glrK"><path class="a" fill="url(#gGlrK)" d="M576,-7.5h67v-6l10,13.5l-10,13.5v-6h-67z"/><text class="t" x="609.5" y="4.5">glrK</text></g>
<g id="r15-yfhG"><path class="a" fill="url(#gYfhG)" d="M661,-7.5h27v-6l10,13.5l-10,13.5v-6h-27z"/><text class="t" x="676" y="4.5">yfhG</text></g>
<g id="r15-glrR"><path class="a" fill="url(#gGlrR)" d="M698,-7.5h62v-6l10,13.5l-10,13.5v-6h-62z"/><text class="t" x="729" y="4.5">glrR</text></g>
<g id="r15-nadE"><path class="a" fill="url(#gNadE)" d="M776,-7.5h66v-6l10,13.5l-10,13.5v-6h-66z"/><text class="t" x="810" y="4.5">nadE</text></g>
<g id="r15-glnB"><path class="a" fill="url(#gGlnB)" d="M853,-7.5h25v-6l10,13.5l-10,13.5v-6h-25z"/><text class="t" x="867.5" y="4.5">glnB</text></g>
<g id="r15-lysR"><path class="a" fill="url(#gGrayR)" d="M893,-7.5h27v-6l10,13.5l-10,13.5v-6h-27z"/><text class="t" x="909" y="4.5">„lysR“</text></g>
<g id="r15-putA"><path class="a" fill="url(#gPutA)" d="M938,-7.5h42v-6l10,13.5l-10,13.5v-6h-42z"/><text class="t" x="960" y="4.5">putA</text></g>
</g>

<g id="row16" transform="translate(0,907.5)">
<g id="r16-mltF"><path class="a" fill="url(#gMltF)" d="M352,-7.5h-67v-6l-10,13.5l10,13.5v-6h67z"/><text class="t" x="318.5" y="4.5">mltF</text></g>
<g id="r16-purL"><path class="a" fill="url(#gPurL)" d="M363,-7.5h142v-6l10,13.5l-10,13.5v-6h-142z"/><text class="t" x="434" y="4.5">purL</text></g>
<g id="r16-cds"><path class="a" fill="url(#gGrayLs)" d="M545,-7.5h-18v-6l-10,13.5l10,13.5v-6h18z"/><text class="t" x="534" y="4.5">cds</text></g>
<g id="r16-glmY"><path class="a" fill="url(#gGlmY)" d="M564,-12h2.5l7.5,12l-7.5,12h-2.5z"/></g>
<g id="r16-glrK"><path class="a" fill="url(#gGlrK)" d="M576,-7.5h67v-6l10,13.5l-10,13.5v-6h-67z"/><text class="t" x="609.5" y="4.5">glrK</text></g>
<g id="r16-yfhG"><path class="a" fill="url(#gYfhG)" d="M661,-7.5h27v-6l10,13.5l-10,13.5v-6h-27z"/><text class="t" x="676" y="4.5">yfhG</text></g>
<g id="r16-glrR"><path class="a" fill="url(#gGlrR)" d="M698,-7.5h62v-6l10,13.5l-10,13.5v-6h-62z"/><text class="t" x="729" y="4.5">glrR</text></g>
<g id="r16-nadE"><path class="a" fill="url(#gNadE)" d="M776,-7.5h66v-6l10,13.5l-10,13.5v-6h-66z"/><text class="t" x="810" y="4.5">nadE</text></g>
<g id="r16-glnB"><path class="a" fill="url(#gGlnB)" d="M853,-7.5h25v-6l10,13.5l-10,13.5v-6h-25z"/><text class="t" x="867.5" y="4.5">glnB</text></g>
<g id="r16-ehpF"><path class="a" fill="url(#gEhpF)" d="M917,-7.5h41v-6l10,13.5l-10,13.5v-6h-41z"/><text class="t" x="939" y="4.5">ehpF</text></g>
<g id="r16-putA"><path class="a" fill="url(#gPutA)" d="M975,-7.5h42v-6l10,13.5l-10,13.5v-6h-42z"/><text class="t" x="997" y="4.5">putA</text></g>
</g>

<text class="lab" x="921" y="952.5" text-anchor="middle">[IS982]</text>
<g id="row17" transform="translate(0,965)">
<g id="r17-mltF"><path class="a" fill="url(#gMltF)" d="M337,-7.5h-66v-6l-10,13.5l10,13.5v-6h66z"/><text class="t" x="304" y="4.5">mltF</text></g>
<g id="r17-purL"><path class="a" fill="url(#gPurL)" d="M348,-7.5h143v-6l10,13.5l-10,13.5v-6h-143z"/><text class="t" x="419.5" y="4.5">purL</text></g>
<g id="r17-cds1"><path class="a" fill="url(#gGrayLs)" d="M528,-7.5h-13v-6l-10,13.5l10,13.5v-6h13z"/><text class="t" x="517" y="4.5">cds</text></g>
<g id="r17-cds2"><path class="a" fill="url(#gGrayLs)" d="M551,-7.5h-15v-6l-10,13.5l10,13.5v-6h15z"/><text class="t" x="540" y="4.5">cds</text></g>
<g id="r17-glmY"><path class="a" fill="url(#gGlmY)" d="M564,-12h2.5l7.5,12l-7.5,12h-2.5z"/></g>
<g id="r17-glrK"><path class="a" fill="url(#gGlrK)" d="M576,-7.5h67v-6l10,13.5l-10,13.5v-6h-67z"/><text class="t" x="609.5" y="4.5">glrK</text></g>
<g id="r17-yfhG"><path class="a" fill="url(#gYfhG)" d="M661,-7.5h27v-6l10,13.5l-10,13.5v-6h-27z"/><text class="t" x="676" y="4.5">yfhG</text></g>
<g id="r17-glrR"><path class="a" fill="url(#gGlrR)" d="M698,-7.5h62v-6l10,13.5l-10,13.5v-6h-62z"/><text class="t" x="729" y="4.5">glrR</text></g>
<g id="r17-nadE"><path class="a" fill="url(#gNadE)" d="M776,-7.5h66v-6l10,13.5l-10,13.5v-6h-66z"/><text class="t" x="810" y="4.5">nadE</text></g>
<g id="r17-glnB"><path class="a" fill="url(#gGlnB)" d="M853,-7.5h25v-6l10,13.5l-10,13.5v-6h-25z"/><text class="t" x="867.5" y="4.5">glnB</text></g>
<g id="r17-tnp"><path class="a" fill="url(#gGrayR)" d="M899,-7.5h42v-6l10,13.5l-10,13.5v-6h-42z"/><text class="t" x="921" y="4.5">tnp</text></g>
<g id="r17-ehpF"><path class="a" fill="url(#gEhpF)" d="M962,-7.5h41v-6l10,13.5l-10,13.5v-6h-41z"/><text class="t" x="984" y="4.5">ehpF</text></g>
</g>

<g id="row18" transform="translate(0,1017)">
<g id="r18-mltF"><path class="a" fill="url(#gMltF)" d="M383,-7.5h-66v-6l-10,13.5l10,13.5v-6h66z"/><text class="t" x="350" y="4.5">mltF</text></g>
<g id="r18-purL"><path class="a" fill="url(#gPurL)" d="M394,-7.5h142v-6l10,13.5l-10,13.5v-6h-142z"/><text class="t" x="465" y="4.5">purL</text></g>
<g id="r18-glmY"><path class="a" fill="url(#gGlmY)" d="M565,-12h2.5l7.5,12l-7.5,12h-2.5z"/></g>
<g id="r18-glrK"><path class="a" fill="url(#gGlrK)" d="M578,-7.5h65v-6l10,13.5l-10,13.5v-6h-65z"/><text class="t" x="610.5" y="4.5">glrK</text></g>
<g id="r18-yfhG"><path class="a" fill="url(#gYfhG)" d="M663,-7.5h27v-6l10,13.5l-10,13.5v-6h-27z"/><text class="t" x="678" y="4.5">yfhG</text></g>
<g id="r18-glrR"><path class="a" fill="url(#gGlrR)" d="M700,-7.5h61v-6l10,13.5l-10,13.5v-6h-61z"/><text class="t" x="730.5" y="4.5">glrR</text></g>
<g id="r18-nadE"><path class="a" fill="url(#gNadE)" d="M777,-7.5h67v-6l10,13.5l-10,13.5v-6h-67z"/><text class="t" x="811" y="4.5">nadE</text></g>
<g id="r18-glnB"><path class="a" fill="url(#gGlnB)" d="M855,-7.5h24v-6l10,13.5l-10,13.5v-6h-24z"/><text class="t" x="869" y="4.5">glnB</text></g>
<g id="r18-gmhA"><path class="a" fill="url(#gGrayR)" d="M895,-7.5h28v-6l10,13.5l-10,13.5v-6h-28z"/><text class="t" x="911" y="4.5">gmhA</text></g>
<g id="r18-COG121"><path class="a" fill="url(#gGrayR)" d="M933,-7.5h41v-6l10,13.5l-10,13.5v-6h-41z"/><text class="t" x="958" y="4.5">COG121</text></g>
</g>

<g id="row19" transform="translate(0,1068)">
<g id="r19-uhpB"><path class="a" fill="url(#gGrayL)" d="M402,-7.5h-67v-6l-10,13.5l10,13.5v-6h67z"/><text class="t" x="368.5" y="4.5">uhpB</text></g>
<g id="r19-citB"><path class="a" fill="url(#gGrayL)" d="M444,-7.5h-32v-6l-10,13.5l10,13.5v-6h32z"/><text class="t" x="427" y="4.5">citB</text></g>
<g id="r19-cds"><path class="a" fill="url(#gGrayL)" d="M532,-7.5h-71v-6l-10,13.5l10,13.5v-6h71z"/><text class="t" x="490" y="4.5">cds</text></g>
<g id="r19-glmY"><path class="a" fill="url(#gGlmY)" d="M564,-12h2.5l7.5,12l-7.5,12h-2.5z"/></g>
<g id="r19-glrK"><path class="a" fill="url(#gGlrK)" d="M576,-7.5h66v-6l10,13.5l-10,13.5v-6h-66z"/><text class="t" x="607" y="4.5">glrK</text></g>
<g id="r19-yfhG"><path class="a" fill="url(#gYfhG)" d="M659,-7.5h27v-6l10,13.5l-10,13.5v-6h-27z"/><text class="t" x="674" y="4.5">yfhG</text></g>
<g id="r19-glrR"><path class="a" fill="url(#gGlrR)" d="M696,-7.5h62v-6l10,13.5l-10,13.5v-6h-62z"/><text class="t" x="727" y="4.5">glrR</text></g>
<g id="r19-nadE"><path class="a" fill="url(#gNadE)" d="M774,-7.5h67v-6l10,13.5l-10,13.5v-6h-67z"/><text class="t" x="808" y="4.5">nadE</text></g>
<g id="r19-glnB"><path class="a" fill="url(#gGlnB)" d="M852,-7.5h24v-6l10,13.5l-10,13.5v-6h-24z"/><text class="t" x="866" y="4.5">glnB</text></g>
<g id="r19-hmp"><path class="a" fill="url(#gHmp)" d="M956,-7.5h-54v-6l-10,13.5l10,13.5v-6h54z"/><text class="t" x="927" y="4.5">hmp</text></g>
<g id="r19-glyA"><path class="a" fill="url(#gGlyA)" d="M964,-7.5h54v-6l10,13.5l-10,13.5v-6h-54z"/><text class="t" x="991" y="4.5">glyA</text></g>
</g>

<g id="legend" class="l">
<text x="206" y="1162.5"><tspan class="i">adk</tspan> : adenylate kinase</text>
<text x="206" y="1178.3"><tspan class="i">aes</tspan> : acetylesterase</text>
<text x="206" y="1193.6"><tspan class="i">cadA</tspan> : lysine decarboxylase</text>
<text x="206" y="1210"><tspan class="i">cds</tspan> : hypothetical protein</text>
<text x="206" y="1226.6"><tspan class="i">citB</tspan> : response regulator with CheY-like receiver domain</text>
<text x="206" y="1245"><tspan class="i">COG121</tspan> : predicted glutamine amidotransferase</text>
<text x="206" y="1262.6"><tspan class="i">COG789</tspan> : SoxR-type transcriptional regulator</text>
<text x="206" y="1281.6"><tspan class="i">COG3683</tspan> : ABC-type transport system, periplasmic component</text>
<text x="206" y="1300"><tspan class="i">csiE</tspan> : stationary phase-inducible protein</text>
<text x="206" y="1315"><tspan class="i">ehpF</tspan> : putative AMP-dependent synthetase/ligase</text>
<text x="206" y="1332.6"><tspan class="i">glnB</tspan> : protein PII</text>
<text x="206" y="1351.6"><tspan class="i">glyA</tspan> : serine hydroxymethyltransferase</text>
<text x="206" y="1369.3"><tspan class="i">gmhA</tspan> : putative phosphoheptose isomerase</text>
<text x="206" y="1387.6"><tspan class="i">hemH</tspan> : ferrochelatase</text>
<text x="206" y="1405"><tspan class="i">hmp</tspan> : flavohemoglobin</text>
<text x="581" y="1162.6"><tspan class="i">lysR</tspan> : LysR-type transcriptional regulator</text>
<text x="581" y="1181"><tspan class="i">mltF</tspan> = <tspan class="i">yfhD</tspan> : membrane-bound lytic murein transglycosylase F</text>
<text x="581" y="1198.3"><tspan class="i">nadE</tspan> : glutamine-dependent NAD(+) synthetase</text>
<text x="581" y="1215"><tspan class="i">paeY</tspan> : pectin acetylesterase</text>
<text x="581" y="1231.6"><tspan class="i">pelB</tspan> : pectate lyase</text>
<text x="581" y="1248.3"><tspan class="i">pemB</tspan> : pectinesterase</text>
<text x="581" y="1265"><tspan class="i">php</tspan> :  predicted metal-dependent hydrolase</text>
<text x="581" y="1282.6"><tspan class="i">purL</tspan> : phosphoribosylformylglycinamide synthetase</text>
<text x="581" y="1302.6"><tspan class="i">putA</tspan> : aldehyde dehydrogenase</text>
<text x="581" y="1318.6"><tspan class="i">tnp</tspan> : transposase</text>
<text x="581" y="1333.6"><tspan class="i">uhpB</tspan> : histidine kinase</text>
<text x="581" y="1351"><tspan class="i">yhfT</tspan> : putative integral membrane protein</text>
<text x="581" y="1368.3"><tspan class="i">yhfX</tspan> : predicted amino acid racemase</text>
<text x="581" y="1386"><tspan class="i">yjdL</tspan> : peptide:H<tspan dy="-4.5" font-size="8">+</tspan><tspan dy="4.5"> symporter</tspan></text>
<text x="581" y="1402.6"><tspan class="i">yphA</tspan> : DoxX family protein</text>
<text x="581" y="1418.6"><tspan class="i">yphH</tspan> : NagC-like transcriptional regulator</text>
</g>
</svg>
